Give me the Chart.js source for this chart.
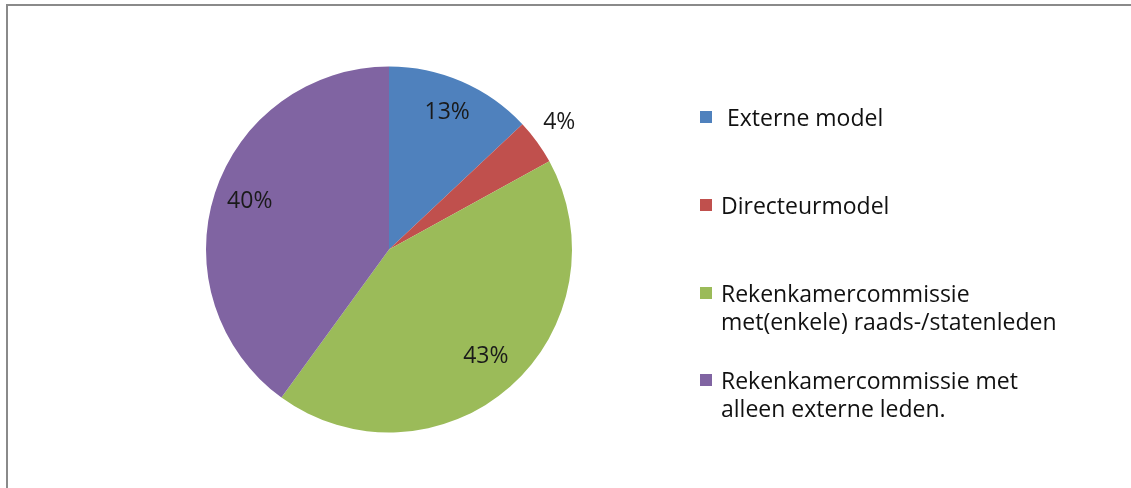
<!DOCTYPE html>
<html>
<head>
<meta charset="utf-8">
<script src="https://cdn.jsdelivr.net/npm/chart.js@4"></script>
<style>
  html, body { margin: 0; padding: 0; background: #fff; }
  #wrap { position: relative; width: 1131px; height: 488px; overflow: hidden; }
  #kader { position: absolute; left: 6px; top: 4px; width: 1200px; height: 600px;
           border-top: 2px solid #8a8a8a; border-left: 2px solid #8a8a8a; }
  #grafiek { position: absolute; left: 0; top: 0; }
</style>
</head>
<body>
<div id="wrap">
  <div id="kader"></div>
  <canvas id="grafiek" width="1131" height="488"></canvas>
</div>
<script>
const categorieen = [
  [" Externe model"],
  ["Directeurmodel"],
  ["Rekenkamercommissie", "met(enkele) raads-/statenleden"],
  ["Rekenkamercommissie met", "alleen externe leden."]
];
const percentages = [13, 4, 43, 40];
const kleuren = ["#4f81bd", "#c0504d", "#9bbb59", "#8064a2"];

const lettertype = "'Open Sans', sans-serif";

// percentages in de taartpunten
const labelPlugin = {
  id: "taartLabels",
  afterDatasetsDraw(chart) {
    const ctx = chart.ctx;
    const meta = chart.getDatasetMeta(0);
    ctx.save();
    ctx.font = "23px " + lettertype;
    ctx.fillStyle = "#1a1a1a";
    ctx.textAlign = "center";
    ctx.textBaseline = "middle";
    meta.data.forEach(function (arc, i) {
      const p = arc.getProps(["x", "y", "startAngle", "endAngle", "outerRadius"], true);
      const mid = (p.startAngle + p.endAngle) / 2;
      const f = percentages[i] < 8 ? 1.15 : 0.8;
      const x = p.x + Math.cos(mid) * p.outerRadius * f;
      const y = p.y + Math.sin(mid) * p.outerRadius * f - 3;
      ctx.fillText(percentages[i] + "%", x, y);
    });
    ctx.restore();
  }
};

// legenda rechts, zoals in Excel
const legendaPlugin = {
  id: "legenda",
  afterDraw(chart) {
    const ctx = chart.ctx;
    const posities = [117, 205, 293, 380];
    ctx.save();
    ctx.font = "23px " + lettertype;
    ctx.textBaseline = "middle";
    categorieen.forEach(function (regels, i) {
      const y = posities[i];
      ctx.fillStyle = kleuren[i];
      ctx.fillRect(700, y - 6, 12, 12);
      ctx.fillStyle = "#111";
      regels.forEach(function (r, j) {
        ctx.fillText(r, 721, y + 2 + j * 28);
      });
    });
    ctx.restore();
  }
};

new Chart(document.getElementById("grafiek"), {
  type: "pie",
  data: {
    labels: categorieen.map(function (c) { return c.join(" "); }),
    datasets: [{
      data: percentages,
      backgroundColor: kleuren,
      borderWidth: 0
    }]
  },
  options: {
    responsive: false,
    animation: false,
    layout: { padding: { left: 206, right: 559, top: 66, bottom: 55 } },
    plugins: {
      legend: { display: false },
      tooltip: { enabled: false }
    }
  },
  plugins: [labelPlugin, legendaPlugin]
});
</script>
</body>
</html>
